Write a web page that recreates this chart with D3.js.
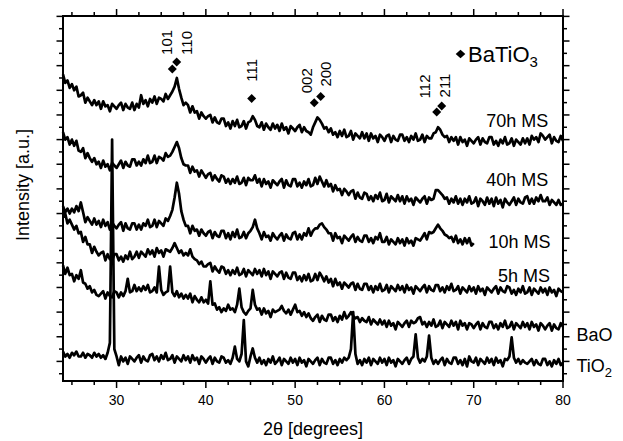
<!DOCTYPE html>
<html>
<head>
<meta charset="utf-8">
<script src="https://cdn.jsdelivr.net/npm/d3@7"></script>
<style>
  body { margin: 0; background: #fff; }
  svg text { font-family: "Liberation Sans", Arial, sans-serif; fill: #000; }
</style>
</head>
<body>
<div id="chart"></div>
<script>
// 2theta grid: every pattern is sampled from 24 deg in 0.25 deg steps
const angleStart = 24;
const angleStep = 0.25;

// intensities [a.u.], offset patterns as in the figure
const int70h = [
  25.3, 24.6, 24.8, 24.2, 24.5, 24.0, 24.3, 23.5,
  23.6, 23.8, 23.0, 23.4, 23.1, 22.8, 23.2, 22.8,
  23.1, 22.5, 23.1, 22.7, 22.8, 22.3, 22.9, 22.7,
  22.5, 22.8, 23.0, 22.4, 22.9, 22.6, 22.5, 23.0,
  22.4, 22.9, 22.6, 23.6, 22.9, 23.2, 22.7, 23.3,
  23.0, 23.5, 22.9, 23.4, 23.3, 23.1, 23.7, 23.3,
  23.6, 23.9, 24.3, 25.0, 24.1, 23.4, 22.8, 23.0,
  22.8, 22.2, 22.7, 22.2, 22.3, 21.7, 22.2, 21.9,
  21.7, 21.9, 22.0, 21.4, 21.8, 21.4, 21.3, 21.7,
  21.7, 21.1, 21.4, 20.9, 21.5, 21.1, 21.6, 21.0,
  21.1, 21.5, 20.9, 21.4, 21.5, 21.9, 21.6, 21.1,
  21.0, 21.4, 20.8, 21.3, 21.0, 20.8, 21.3, 20.9,
  21.2, 20.7, 21.3, 20.8, 21.0, 20.5, 21.1, 20.9,
  20.7, 21.0, 21.2, 20.6, 21.0, 20.7, 20.6, 20.4,
  21.0, 21.4, 21.8, 21.6, 21.3, 20.9, 21.0, 20.6,
  20.9, 20.4, 20.6, 20.2, 20.7, 20.3, 20.8, 20.2,
  20.3, 20.7, 20.0, 20.5, 20.3, 20.1, 20.6, 20.1,
  20.5, 19.9, 20.5, 20.1, 20.3, 19.8, 20.4, 20.2,
  19.9, 20.3, 20.4, 19.8, 20.3, 20.0, 19.9, 20.4,
  20.4, 19.9, 20.2, 19.8, 20.3, 20.0, 20.5, 19.9,
  20.0, 20.4, 19.8, 20.3, 20.1, 20.1, 20.5, 20.6,
  21.0, 20.8, 20.4, 20.2, 20.3, 19.8, 20.2, 19.9,
  20.2, 19.6, 20.2, 19.8, 20.0, 19.5, 20.1, 19.9,
  19.7, 20.0, 20.2, 19.6, 20.1, 19.8, 19.7, 20.2,
  20.2, 19.6, 19.9, 19.5, 20.0, 19.7, 20.2, 19.6,
  19.7, 20.1, 19.5, 20.0, 19.8, 19.6, 20.1, 19.7,
  20.1, 19.6, 20.3, 20.0, 20.2, 19.8, 20.5, 20.3,
  20.0, 20.2, 20.4, 19.7, 20.2, 19.9, 19.8, 20.3,
  19.9
];

const int40h = [
  20.6, 20.0, 20.2, 19.6, 20.0, 19.5, 19.9, 19.1,
  19.0, 19.3, 18.5, 18.9, 18.5, 18.2, 18.5, 18.0,
  18.2, 17.7, 18.3, 17.8, 18.0, 17.5, 18.1, 17.9,
  17.7, 18.0, 18.3, 17.7, 18.2, 17.9, 17.8, 18.4,
  18.4, 17.9, 18.2, 17.9, 18.4, 18.1, 18.7, 18.1,
  18.2, 18.7, 18.1, 18.6, 18.5, 18.3, 18.9, 18.6,
  18.7, 19.0, 19.4, 19.8, 19.3, 18.5, 18.0, 17.9,
  17.9, 17.3, 17.8, 17.4, 17.5, 17.0, 17.5, 17.2,
  16.9, 17.2, 17.3, 16.7, 17.1, 16.8, 16.6, 17.1,
  17.0, 16.5, 16.8, 16.4, 16.8, 16.5, 17.0, 16.4,
  16.5, 16.9, 16.3, 16.9, 16.7, 16.7, 17.1, 16.5,
  16.8, 16.2, 16.8, 16.4, 16.6, 16.1, 16.7, 16.5,
  16.3, 16.6, 16.8, 16.1, 16.7, 16.3, 16.2, 16.8,
  16.8, 16.2, 16.5, 16.1, 16.6, 16.3, 16.8, 16.2,
  16.3, 16.9, 16.4, 17.0, 16.6, 16.2, 16.7, 16.2,
  16.4, 15.8, 16.3, 15.9, 16.0, 15.5, 16.0, 15.8,
  15.5, 15.8, 15.9, 15.2, 15.7, 15.3, 15.2, 15.7,
  15.6, 15.1, 15.4, 15.0, 15.5, 15.2, 15.7, 15.0,
  15.1, 15.6, 14.9, 15.4, 15.2, 15.0, 15.5, 15.0,
  15.4, 14.8, 15.4, 15.0, 15.2, 14.7, 15.3, 15.1,
  14.9, 15.2, 15.4, 14.8, 15.3, 15.1, 15.2, 15.9,
  15.9, 15.7, 15.5, 15.2, 15.3, 14.8, 15.2, 14.9,
  15.4, 14.8, 15.2, 14.7, 15.2, 14.9, 15.4, 14.8,
  14.9, 15.3, 14.6, 15.2, 15.0, 14.7, 15.3, 14.8,
  15.2, 14.6, 15.3, 14.8, 15.1, 14.5, 15.2, 14.9,
  14.7, 15.0, 15.3, 14.7, 15.2, 14.9, 14.8, 15.3,
  15.4, 14.8, 15.2, 14.8, 15.3, 15.0, 15.5, 15.0,
  15.0, 15.3, 14.7, 15.1, 14.9, 14.7, 15.1, 14.7,
  14.8
];

// the 10h pattern stops at 70 deg
const int10h = [
  14.6, 14.1, 14.4, 14.0, 14.4, 14.1, 14.6, 14.2,
  14.9, 14.1, 13.3, 13.7, 13.4, 13.1, 13.6, 13.1,
  13.4, 12.9, 13.5, 13.0, 13.3, 12.7, 13.3, 13.0,
  12.8, 13.1, 13.3, 12.6, 13.2, 12.8, 12.7, 13.2,
  13.2, 12.7, 13.1, 12.7, 13.2, 13.0, 13.5, 12.9,
  13.0, 13.5, 12.9, 13.4, 13.2, 13.0, 13.6, 13.4,
  13.8, 14.3, 15.3, 16.5, 15.6, 14.2, 13.5, 13.0,
  13.0, 12.4, 13.0, 12.6, 12.7, 12.2, 12.7, 12.4,
  12.2, 12.5, 12.6, 12.0, 12.5, 12.2, 12.1, 12.6,
  12.6, 12.0, 12.4, 11.9, 12.5, 12.1, 12.7, 12.0,
  12.1, 12.5, 12.0, 12.4, 12.6, 12.9, 13.5, 12.8,
  12.4, 11.9, 12.5, 12.1, 12.2, 11.8, 12.4, 12.1,
  11.9, 12.2, 12.4, 11.8, 12.3, 12.0, 11.9, 12.4,
  12.5, 11.9, 12.3, 11.9, 12.4, 12.2, 12.8, 12.2,
  12.6, 12.8, 12.8, 13.1, 13.2, 12.9, 12.7, 12.4,
  12.4, 11.8, 12.4, 12.0, 12.1, 11.6, 12.2, 12.0,
  11.8, 12.1, 12.3, 11.7, 12.1, 11.8, 11.7, 12.2,
  12.2, 11.7, 12.0, 11.6, 12.1, 11.9, 12.4, 11.7,
  11.7, 12.1, 11.5, 11.9, 11.7, 11.5, 12.0, 11.6,
  11.9, 11.4, 12.0, 11.6, 11.8, 11.4, 12.0, 11.9,
  11.8, 12.1, 12.4, 11.9, 12.5, 12.4, 12.5, 12.8,
  13.1, 12.8, 12.6, 12.3, 12.2, 12.0, 12.1, 11.7,
  12.2, 11.6, 11.9, 11.5, 12.0, 11.6, 12.0, 11.4,
  11.6
];

const int5h = [
  13.7, 14.0, 13.2, 13.5, 13.1, 12.7, 13.0, 12.4,
  12.5, 11.7, 12.1, 11.5, 11.5, 10.8, 11.3, 10.9,
  10.6, 10.8, 10.9, 10.2, 10.7, 10.3, 10.2, 10.7,
  10.7, 10.2, 10.5, 10.1, 10.6, 10.3, 10.9, 10.3,
  10.5, 10.9, 10.4, 10.9, 10.7, 10.5, 11.1, 10.7,
  11.0, 10.5, 11.2, 10.8, 11.0, 10.5, 11.1, 11.0,
  10.9, 11.2, 11.6, 11.2, 10.8, 11.0, 10.6, 10.8,
  10.6, 11.1, 10.5, 10.3, 10.2, 9.9, 10.1, 9.7,
  9.7, 9.9, 10.0, 9.3, 9.7, 9.4, 9.2, 9.7,
  9.6, 9.1, 9.4, 9.0, 9.4, 9.1, 9.6, 9.0,
  9.1, 9.5, 8.9, 9.4, 9.2, 9.0, 9.5, 9.1,
  9.4, 8.9, 9.5, 9.0, 9.3, 8.7, 9.3, 9.1,
  8.9, 9.2, 9.3, 8.7, 9.2, 8.8, 8.7, 9.2,
  9.2, 8.6, 8.9, 8.5, 9.0, 8.6, 9.1, 8.5,
  8.6, 9.1, 8.6, 9.2, 8.9, 8.5, 8.9, 8.4,
  8.7, 8.1, 8.7, 8.2, 8.4, 7.9, 8.4, 8.2,
  8.0, 8.3, 8.4, 7.8, 8.3, 7.9, 7.8, 8.3,
  8.3, 7.8, 8.1, 7.6, 8.1, 7.8, 8.3, 7.7,
  7.8, 8.2, 7.6, 8.1, 7.9, 7.7, 8.2, 7.8,
  8.1, 7.6, 8.2, 7.8, 8.0, 7.5, 8.1, 7.9,
  7.7, 8.0, 8.2, 7.6, 8.1, 7.8, 7.7, 8.2,
  8.2, 7.7, 8.0, 7.6, 8.1, 7.8, 8.3, 7.7,
  7.8, 8.1, 7.5, 8.0, 7.8, 7.6, 8.1, 7.7,
  8.0, 7.5, 8.1, 7.7, 7.9, 7.4, 8.0, 7.8,
  7.6, 7.9, 8.1, 7.5, 8.0, 7.7, 7.6, 8.1,
  8.0, 7.5, 7.8, 7.4, 7.9, 7.6, 8.1, 7.5,
  7.6, 8.0, 7.4, 7.9, 7.7, 7.5, 8.0, 7.6,
  7.9, 7.4, 8.0, 7.6, 7.8, 7.3, 7.9, 7.7,
  7.6
];

const intBaO = [
  9.8, 9.1, 9.6, 9.0, 9.1, 8.5, 9.0, 8.7,
  9.4, 8.4, 8.3, 7.9, 8.1, 7.6, 7.8, 7.4,
  7.3, 7.5, 7.7, 7.1, 7.6, 7.3, 7.2, 7.7,
  7.6, 7.2, 7.6, 7.3, 7.7, 8.7, 7.6, 7.7,
  8.2, 7.7, 8.0, 7.7, 8.1, 7.8, 8.2, 7.6,
  7.7, 8.0, 7.6, 9.7, 7.8, 7.4, 7.6, 7.7,
  9.7, 7.6, 7.3, 7.7, 7.2, 7.5, 7.1, 7.4,
  7.1, 7.5, 6.8, 7.3, 7.0, 6.8, 7.2, 6.8,
  7.0, 6.7, 8.5, 6.6, 6.7, 6.2, 6.4, 6.0,
  6.3, 6.1, 6.6, 6.2, 6.3, 6.0, 6.6, 7.9,
  6.4, 6.0, 5.8, 6.1, 6.3, 7.8, 6.6, 6.2,
  6.3, 5.8, 6.3, 5.9, 6.1, 5.6, 6.2, 6.0,
  6.1, 6.2, 6.5, 6.1, 5.9, 6.2, 5.8, 6.2,
  6.6, 6.0, 6.1, 5.7, 6.0, 5.6, 5.9, 5.5,
  5.3, 5.6, 5.8, 5.2, 5.7, 5.4, 5.3, 5.8,
  5.8, 5.3, 5.6, 5.2, 5.7, 5.4, 6.0, 5.5,
  5.7, 6.0, 5.7, 5.5, 5.6, 5.2, 5.5, 5.3,
  5.2, 5.6, 5.0, 5.4, 5.2, 5.0, 5.4, 5.0,
  5.3, 4.8, 5.3, 4.9, 5.1, 4.6, 5.2, 5.0,
  4.8, 5.1, 5.3, 4.8, 5.3, 5.1, 5.2, 5.5,
  5.6, 5.0, 5.2, 4.8, 5.2, 4.9, 5.4, 4.8,
  4.9, 5.3, 4.7, 5.2, 5.0, 4.8, 5.3, 4.9,
  5.2, 4.6, 5.3, 4.9, 5.1, 4.6, 5.1, 5.0,
  4.7, 5.0, 5.2, 4.6, 5.1, 4.8, 4.7, 5.2,
  5.2, 4.7, 5.0, 4.6, 5.1, 4.8, 5.3, 4.7,
  4.8, 5.2, 4.6, 5.1, 4.9, 4.7, 5.2, 4.8,
  5.1, 4.6, 5.2, 4.8, 5.0, 4.5, 5.1, 4.9,
  4.6, 4.9, 5.1, 4.5, 5.0, 4.7, 4.6, 5.1,
  4.8
];

const intTiO2 = [
  2.8, 2.4, 2.6, 2.3, 2.7, 2.5, 2.8, 2.4,
  2.4, 2.7, 2.3, 2.6, 2.5, 2.3, 2.7, 2.4,
  2.6, 2.3, 2.5, 2.2, 2.7, 3.5, 20.0, 3.0,
  2.4, 1.7, 2.4, 2.0, 2.3, 1.8, 2.4, 2.2,
  2.0, 2.3, 2.5, 1.9, 2.4, 2.1, 2.0, 2.5,
  2.6, 2.1, 2.4, 2.0, 2.5, 2.2, 2.7, 2.1,
  2.2, 2.5, 1.9, 2.4, 2.2, 2.0, 2.5, 2.1,
  2.4, 1.9, 2.5, 2.1, 2.3, 1.8, 2.4, 2.2,
  1.9, 2.2, 2.4, 1.8, 2.3, 2.0, 1.9, 2.4,
  2.3, 1.9, 2.1, 1.8, 2.3, 3.2, 2.2, 2.0,
  2.6, 5.35, 2.0, 1.6, 2.4, 3.05, 2.3, 1.9,
  2.3, 1.8, 2.1, 1.7, 2.2, 1.9, 2.4, 1.8,
  2.0, 2.3, 1.7, 2.2, 2.0, 1.8, 2.3, 1.9,
  2.2, 1.7, 2.3, 1.9, 2.1, 1.6, 2.2, 2.0,
  1.8, 2.1, 2.3, 1.7, 2.2, 1.9, 1.8, 2.3,
  2.3, 1.8, 2.1, 1.7, 2.2, 1.9, 2.3, 2.1,
  2.3, 3.0, 6.0, 2.6, 1.8, 2.1, 1.7, 2.2,
  1.9, 2.3, 1.7, 2.2, 2.0, 1.8, 2.3, 1.9,
  2.2, 1.7, 2.3, 1.9, 2.1, 1.6, 2.2, 2.0,
  1.8, 2.1, 2.3, 1.8, 2.2, 2.4, 4.2, 2.3,
  1.9, 2.2, 2.0, 2.4, 4.1, 2.3, 1.8, 2.1,
  1.8, 2.1, 2.3, 1.7, 2.2, 1.9, 1.8, 2.3,
  2.3, 1.8, 2.1, 1.7, 2.2, 1.6, 2.4, 2.0,
  1.9, 2.3, 1.7, 2.2, 2.0, 1.8, 2.3, 1.9,
  2.2, 1.7, 2.3, 1.9, 2.1, 1.6, 2.2, 2.1,
  2.4, 3.95, 2.3, 1.9, 2.2, 1.8, 2.1, 1.9,
  1.8, 2.0, 2.2, 1.7, 2.1, 1.8, 1.7, 2.2,
  2.2, 1.7, 2.0, 1.6, 2.1, 1.8, 2.2, 1.7,
  1.9
];

const patterns = [int70h, int40h, int10h, int5h, intBaO, intTiO2];
const patternNames = ['70h MS', '40h MS', '10h MS', '5h MS', 'BaO', 'TiO'];
// where each name sits (2theta, intensity)
const nameAngles = [78.35, 78.35, 78.6, 78.55, 81.5, 81.5];
const nameLevels = [21.0, 16.26, 11.18, 8.41, 3.68, 1.16];

// BaTiO3 reflections: marker positions and hkl labels
const hklLabels = ['101', '110', '111', '002', '200', '112', '211'];
const hklAngles = [36.24, 36.73, 45.13, 52.14, 52.86, 65.85, 66.41];
const hklMarkLevels = [25.73, 26.30, 23.34, 23.00, 23.49, 22.24, 22.73];
const hklTextAngles = [36.17, 38.41, 45.69, 51.85, 54.01, 65.10, 67.34];
const hklTextLevels = [26.87, 26.87, 24.70, 23.76, 24.30, 23.34, 23.42];

const xMajor = [30, 40, 50, 60, 70, 80];
const xMinor = [25, 27.5, 32.5, 35, 37.5, 42.5, 45, 47.5, 52.5, 55, 57.5, 62.5, 65, 67.5, 72.5, 75, 77.5];

const width = 623, height = 441;
const plot = { left: 63, right: 563, top: 16, bottom: 381 };

const x = d3.scaleLinear().domain([24, 80]).range([plot.left, plot.right]);
const y = d3.scaleLinear().domain([0.41, 30.03]).range([plot.bottom, plot.top]);

const yTicks = d3.range(1, 31);
const yMajor = yTicks.filter(v => v % 2 === 0);
const yMinor = yTicks.filter(v => v % 2 !== 0);

const svg = d3.select('#chart').append('svg')
  .attr('width', width)
  .attr('height', height)
  .attr('font-family', '"Liberation Sans", Arial, sans-serif');

// outward ticks on all four sides
const ticks = svg.append('g')
  .attr('stroke', '#000')
  .attr('stroke-width', 1.5);

function xTicks(values, len) {
  ticks.append('g').selectAll('line').data(values).join('line')
    .attr('x1', d => x(d)).attr('x2', d => x(d))
    .attr('y1', plot.bottom).attr('y2', plot.bottom + len);
  ticks.append('g').selectAll('line').data(values).join('line')
    .attr('x1', d => x(d)).attr('x2', d => x(d))
    .attr('y1', plot.top).attr('y2', plot.top - len);
}

function yTickMarks(values, len) {
  ticks.append('g').selectAll('line').data(values).join('line')
    .attr('y1', d => y(d)).attr('y2', d => y(d))
    .attr('x1', plot.left).attr('x2', plot.left - len);
  ticks.append('g').selectAll('line').data(values).join('line')
    .attr('y1', d => y(d)).attr('y2', d => y(d))
    .attr('x1', plot.right).attr('x2', plot.right + len);
}

xTicks(xMajor, 7);
xTicks(xMinor, 4);
yTickMarks(yMajor, 6.5);
yTickMarks(yMinor, 4);

// tick labels on the bottom only
svg.append('g')
  .selectAll('text')
  .data(xMajor)
  .join('text')
  .attr('x', d => x(d))
  .attr('y', plot.bottom + 24)
  .attr('text-anchor', 'middle')
  .attr('font-size', 14)
  .text(d => d);

svg.append('rect')
  .attr('x', plot.left)
  .attr('y', plot.top)
  .attr('width', plot.right - plot.left)
  .attr('height', plot.bottom - plot.top)
  .attr('fill', 'none')
  .attr('stroke', '#000')
  .attr('stroke-width', 2);

const line = d3.line()
  .x((d, i) => x(angleStart + i * angleStep))
  .y(d => y(d));

svg.append('g')
  .selectAll('path')
  .data(patterns)
  .join('path')
  .attr('d', line)
  .attr('fill', 'none')
  .attr('stroke', '#000')
  .attr('stroke-width', 2.7)
  .attr('stroke-linejoin', 'round');

// pattern names
const names = svg.append('g')
  .selectAll('text')
  .data(patternNames)
  .join('text')
  .attr('x', (d, i) => x(nameAngles[i]))
  .attr('y', (d, i) => y(nameLevels[i]))
  .attr('text-anchor', (d, i) => nameAngles[i] > 80 ? 'start' : 'end')
  .attr('font-size', 18)
  .text(d => d);
names.filter(d => d === 'TiO')
  .append('tspan')
  .attr('dy', 5)
  .attr('font-size', 13)
  .text('2');

function diamond(cx, cy, w, h) {
  return `M${cx},${cy - h}L${cx + w},${cy}L${cx},${cy + h}L${cx - w},${cy}Z`;
}

// reflection markers
svg.append('g')
  .selectAll('path')
  .data(hklAngles)
  .join('path')
  .attr('d', (d, i) => diamond(x(d), y(hklMarkLevels[i]), 4.5, 4.5))
  .attr('fill', '#000');

svg.append('g')
  .selectAll('text')
  .data(hklLabels)
  .join('text')
  .attr('transform', (d, i) => `translate(${x(hklTextAngles[i])},${y(hklTextLevels[i])}) rotate(-90)`)
  .attr('font-size', 15)
  .text(d => d);

// legend
svg.append('path')
  .attr('d', diamond(460.5, 54, 4.8, 4.3))
  .attr('fill', '#000');
const legendText = svg.append('text')
  .attr('x', 468)
  .attr('y', 61.5)
  .attr('font-size', 22)
  .text('BaTiO');
legendText.append('tspan')
  .attr('dy', 5)
  .attr('font-size', 15)
  .text('3');

// axis titles
svg.append('text')
  .attr('x', (plot.left + plot.right) / 2)
  .attr('y', 435)
  .attr('text-anchor', 'middle')
  .attr('font-size', 18)
  .text('2\u03b8 [degrees]');

svg.append('text')
  .attr('transform', `translate(29,185) rotate(-90)`)
  .attr('text-anchor', 'middle')
  .attr('font-size', 18)
  .text('Intensity [a.u.]');
</script>
</body>
</html>
